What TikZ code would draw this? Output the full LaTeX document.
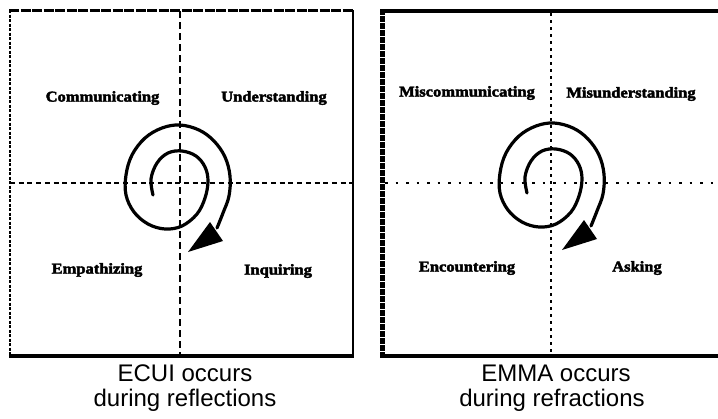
\documentclass[tikz,border=0pt]{standalone}
\usepackage{fontspec}
\setmainfont{Liberation Serif}
\newfontfamily\capfont{Liberation Sans}
\newfontfamily\quadfont[FakeBold=2.6]{Liberation Serif Bold}
\newcommand{\wide}[1]{\scalebox{1.1}[1]{#1}}
\tikzset{
  quadlabel/.style={inner sep=0pt, font=\quadfont\fontsize{15}{17}\selectfont},
  caption/.style={inner sep=0pt, anchor=base, font=\capfont\fontsize{24}{28}\selectfont},
  dashaxis/.style={line width=2.4pt, dash pattern=on 5pt off 3.7pt},
  dashaxisv/.style={line width=2.2pt, dash pattern=on 7pt off 4pt},
  dotaxis/.style={line width=2.6pt, dash pattern=on 2.5pt off 8pt},
  dotaxisv/.style={line width=2.6pt, dash pattern=on 3pt off 4pt},
  spiralline/.style={line width=3.2pt, line cap=round, line join=round},
  spiral/.pic={
    \draw[spiralline] plot[smooth, tension=0.6] coordinates {
      (-27,15) (-29,-1) (-23,-17) (-12,-27) (2,-29) (16,-24) (25,-13)
      (28,1) (25,18) (17,34) (2,46) (-15,49) (-32,44) (-46,32) (-54,15)
      (-54,-5) (-48,-25) (-35,-42) (-18,-52) (0,-55) (19,-50) (34,-39)
      (45,-23) (50,-4) (49,16) (43,33) (37,48)};
    \fill (30,42) -- (43,61) -- (8,72) -- cycle;
  }
}
\begin{document}
\begin{tikzpicture}[x=1pt, y=-1pt]
  \useasboundingbox (0,0) rectangle (718,418);

  % left frame
  \draw[line width=2.5pt, dash pattern=on 10pt off 1.5pt] (9,10.7) -- (354,10.7);
  \draw[line width=1.7pt, dash pattern=on 3pt off 1.5pt] (10.2,10) -- (10.2,357);
  \draw[line width=2pt] (353.3,10) -- (353.3,358);
  \draw[line width=3.5pt] (9,356) -- (354.3,356);

  % right frame
  \draw[line width=4pt] (380,11.3) -- (718,11.3);
  \draw[line width=5pt, dash pattern=on 6pt off 1pt] (382.5,9.3) -- (382.5,358);
  \draw[line width=4pt] (380,356.3) -- (718,356.3);

  % quadrant axes
  \draw[dashaxis] (10,183) -- (353,183);
  \draw[dashaxisv] (180,11) -- (180,357);
  \draw[dotaxis] (385,183) -- (718,183);
  \draw[dotaxisv] (551,13) -- (551,357);

  % spirals
  \pic at (180,180) {spiral};
  \pic at (554,178) {spiral};

  % quadrant labels
  \node[quadlabel] (comm) at (102.5,98) {\wide{Communicating}};
  \node[quadlabel] (unde) at (274,98) {\wide{Understanding}};
  \node[quadlabel] (empa) at (97,270) {\wide{Empathizing}};
  \node[quadlabel] (inqu) at (278,271) {\wide{Inquiring}};
  \node[quadlabel] (misc) at (467,93) {\wide{Miscommunicating}};
  \node[quadlabel] (misu) at (631,94) {\wide{Misunderstanding}};
  \node[quadlabel] (enco) at (467,268) {\wide{Encountering}};
  \node[quadlabel] (aski) at (637,268) {\wide{Asking}};

  % captions
  \node[caption] (ecuiA) at (185,381) {ECUI occurs};
  \node[caption] (ecuiB) at (185,406) {during reflections};
  \node[caption] (emmaA) at (556,381) {EMMA occurs};
  \node[caption] (emmaB) at (552,406) {during refractions};
\end{tikzpicture}
\end{document}
